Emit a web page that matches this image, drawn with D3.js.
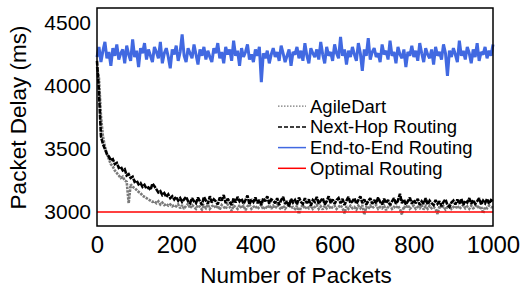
<!DOCTYPE html>
<html><head><meta charset="utf-8">
<script src="https://cdn.jsdelivr.net/npm/d3@7"></script>
<style>body{margin:0;background:#fff}svg{display:block}text{font-family:"Liberation Sans",Arial,sans-serif;fill:#000}</style>
</head><body><svg id="c" width="532" height="299"></svg>
<script>
// packets sampled every 5
const packets = d3.range(0, 1001, 5);
const seriesNames = ["AgileDart", "Next-Hop Routing", "End-to-End Routing", "Optimal Routing"];
const xTicks = [0, 200, 400, 600, 800, 1000];
const yTicks = [3000, 3500, 4000, 4500];

const agileDart = [
4150,4060,3760,3600,3520,3460,3420,3380,3360,3330,
3310,3290,3270,3280,3250,3240,3070,3220,3200,3190,
3175,3160,3150,3130,3120,3110,3100,3090,3080,3085,
3070,3085,3060,3075,3055,3065,3050,3060,3045,3055,
3045,3060,3030,3055,3025,3050,3065,3030,3055,3040,
3025,3055,3040,3020,3050,3030,3060,3025,3045,3055,
3030,3050,3020,3055,3040,3025,3060,3040,3010,3050,
3040,3025,3055,3030,3050,3015,3045,3060,3025,3040,
3050,3025,3040,3055,3020,3045,3030,3055,3025,3050,
3030,3055,3040,3020,3050,3025,3045,3060,3030,3040,
3025,3050,2985,3040,3055,3025,3045,3030,3050,3025,
3040,3055,3025,3045,3020,3050,3030,3055,3025,3040,
3050,3025,3040,3055,3030,2990,3045,3025,3050,3030,
3040,3020,3050,3030,3055,2980,3040,3025,3050,3030,
3045,3055,3025,3040,3030,3050,3015,3040,3055,3025,
3040,3030,3050,3025,2980,3045,3030,3055,3025,3040,
3050,3025,3040,3030,3055,3020,3045,3025,3050,3030,
3040,3025,2985,3050,3030,3045,3020,3040,3055,3025,
3040,3030,3050,3025,3040,3055,3030,3045,3025,3050,
3030,3040,3055,3025,3045,2990,3040,3030,3050,3040,
3035];

const nextHop = [
4200,3950,3600,3540,3500,3460,3440,3410,3420,3380,
3390,3350,3360,3330,3340,3290,3300,3270,3280,3240,
3250,3220,3230,3200,3215,3185,3195,3175,3225,3205,
3180,3155,3165,3135,3150,3120,3140,3110,3125,3100,
3120,3090,3110,3080,3100,3120,3085,3070,3110,3085,
3070,3115,3085,3055,3120,3090,3065,3125,3075,3100,
3085,3060,3115,3090,3135,3070,3105,3080,3055,3110,
3075,3120,3085,3105,3065,3095,3130,3060,3100,3080,
3115,3070,3095,3055,3110,3085,3125,3065,3100,3090,
3070,3110,3055,3095,3120,3065,3085,3045,3105,3075,
3095,3060,3115,3080,3065,3110,3070,3100,3050,3095,
3080,3120,3065,3090,3110,3060,3085,3125,3070,3100,
3065,3095,3110,3070,3105,3055,3090,3120,3070,3085,
3110,3065,3095,3125,3070,3100,3060,3085,3110,3065,
3095,3070,3115,3080,3060,3105,3070,3095,3055,3085,
3110,3065,3090,3145,3070,3100,3060,3085,3115,3065,
3095,3070,3105,3055,3085,3065,3110,3060,3090,3070,
3055,3095,3065,3085,3045,3080,3100,3055,3040,3075,
3090,3060,3100,3065,3105,3055,3090,3075,3110,3065,
3095,3065,3085,3110,3060,3090,3070,3105,3065,3095,
3085];

const endToEnd = [
4230,4310,4190,4280,4350,4220,4270,4160,4300,4240,
4330,4210,4260,4290,4180,4320,4250,4200,4370,4230,
4280,4150,4300,4260,4340,4210,4290,4240,4190,4310,
4270,4220,4350,4180,4260,4300,4230,4140,4290,4250,
4320,4200,4270,4410,4240,4190,4300,4260,4220,4330,
4250,4170,4290,4240,4310,4210,4280,4230,4190,4300,
4260,4340,4220,4270,4180,4310,4250,4290,4200,4360,
4240,4280,4160,4300,4230,4270,4330,4210,4250,4190,
4290,4240,4310,4030,4260,4220,4280,4180,4250,4300,
4230,4270,4200,4320,4260,4190,4240,4290,4160,4270,
4250,4310,4220,4280,4200,4340,4240,4180,4300,4260,
4230,4290,4210,4350,4250,4180,4310,4240,4270,4200,
4330,4260,4220,4390,4240,4290,4170,4280,4230,4310,
4250,4200,4340,4260,4120,4290,4240,4380,4210,4270,
4300,4230,4260,4190,4330,4250,4280,4210,4360,4240,
4270,4180,4310,4250,4220,4290,4150,4270,4240,4320,
4230,4280,4200,4340,4260,4190,4300,4250,4220,4290,
4170,4310,4240,4270,4210,4330,4260,4080,4280,4230,
4300,4250,4190,4360,4240,4280,4210,4310,4260,4180,
4290,4230,4340,4200,4270,4250,4310,4220,4280,4240,
4330];

const optimalPackets = [0, 1000];
const optimal = [3000, 3000];

const svg = d3.select("#c");
const x = d3.scaleLinear().domain([0, 1000]).range([97, 493]);
const y = d3.scaleLinear().domain([2889, 4619]).range([226, 8]);

const line = d3.line().x(d => x(d[0])).y(d => y(d[1]));
const zip = (xs, ys) => xs.map((v, i) => [v, ys[i]]);

const styles = [
  {data: zip(packets, agileDart), color: "#7a7a7a", dash: "2.5,1", w: 2.6},
  {data: zip(packets, nextHop), color: "#000", dash: "5,1", w: 2.6},
  {data: zip(packets, endToEnd), color: "#4169e1", dash: null, w: 3},
  {data: zip(optimalPackets, optimal), color: "#ff0000", dash: null, w: 1.6}
];

const g = svg.append("g");
styles.forEach(s => {
  g.append("path").attr("d", line(s.data)).attr("fill", "none")
    .attr("stroke", s.color).attr("stroke-width", s.w)
    .attr("stroke-linejoin", "miter").attr("stroke-miterlimit", 2)
    .attr("stroke-dasharray", s.dash);
});

// frame
svg.append("rect").attr("x", 97).attr("y", 8).attr("width", 396).attr("height", 218)
  .attr("fill", "none").attr("stroke", "#000").attr("stroke-width", 1.5);

// axes
const xa = svg.append("g").attr("transform", "translate(0,226)")
  .call(d3.axisBottom(x).tickValues(xTicks).tickSize(0).tickPadding(10).tickFormat(d3.format("d")));
xa.select(".domain").remove();
xa.selectAll("text").attr("font-size", 24).attr("font-family", "Liberation Sans, Arial").attr("dy", "0.71em");

const ya = svg.append("g").attr("transform", "translate(97,0)")
  .call(d3.axisLeft(y).tickValues(yTicks).tickSize(0).tickPadding(6).tickFormat(d3.format("d")));
ya.select(".domain").remove();
ya.selectAll("text").attr("font-size", 21).attr("font-family", "Liberation Sans, Arial");

svg.append("text").attr("x", 296).attr("y", 283).attr("text-anchor", "middle")
  .attr("font-size", 22.5).text("Number of Packets");
svg.append("text").attr("transform", "translate(26,117.5) rotate(-90)").attr("text-anchor", "middle")
  .attr("font-size", 22.5).text("Packet Delay (ms)");

// legend
const lg = svg.append("g");
seriesNames.forEach((n, i) => {
  const by = 112.7 + i * 20.7;
  lg.append("line").attr("x1", 278).attr("x2", 306).attr("y1", by - 6.5).attr("y2", by - 6.5)
    .attr("stroke", styles[i].color).attr("stroke-width", i === 0 ? 1.2 : 1.5)
    .attr("stroke-dasharray", i === 0 ? "1.5,1.5" : (i === 1 ? "4,2" : null));
  lg.append("text").attr("x", 310).attr("y", by).attr("font-size", 18.5).text(n);
});
</script></body></html>
